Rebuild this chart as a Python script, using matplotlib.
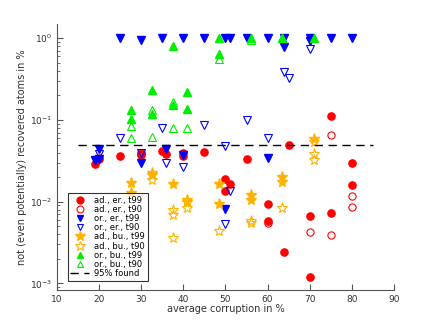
import matplotlib.pyplot as plt

# ad., er., t99 (red filled circles)
ad_er_99_x = [19, 20, 25, 30, 30, 35, 36, 40, 40, 45, 50, 50, 51, 55, 60, 60, 64, 65, 70, 70, 75, 75, 80, 80]
ad_er_99_y = [0.0286, 0.033, 0.0362, 0.0398, 0.037, 0.042, 0.038, 0.040, 0.036, 0.041, 0.019, 0.0135, 0.0164,
              0.033, 0.0095, 0.0058, 0.0024, 0.050, 0.0067, 0.0012, 0.111, 0.0072, 0.030, 0.016]
# ad., er., t90 (red open circles)
ad_er_90_x = [20, 30, 60, 70, 75, 75, 80, 80]
ad_er_90_y = [0.034, 0.038, 0.0055, 0.0043, 0.0655, 0.0039, 0.0118, 0.0087]
# or., er., t99 (blue filled down triangles)
or_er_99_x = [19, 20, 20, 25, 30, 30, 35, 36, 40, 40, 45, 50, 50, 51, 55, 60, 60, 64, 64, 70, 70, 75, 80]
or_er_99_y = [0.032, 0.044, 0.033, 1.0, 0.95, 0.030, 1.0, 0.044, 1.0, 0.037, 1.0, 1.0, 0.0081, 1.0, 1.0,
              1.0, 0.034, 1.0, 0.79, 1.0, 0.93, 1.0, 1.0]
# or., er., t90 (blue open down triangles)
or_er_90_x = [19, 20, 25, 30, 35, 36, 40, 45, 50, 50, 51, 55, 60, 64, 65, 70]
or_er_90_y = [0.032, 0.038, 0.0597, 0.040, 0.079, 0.0295, 0.0268, 0.087, 0.0485, 0.0054, 0.0135, 0.10,
              0.061, 0.39, 0.33, 0.73]
# ad., bu., t99 (orange filled stars)
ad_bu_99_x = [27.5, 27.5, 32.5, 32.5, 37.5, 41, 41, 48.5, 48.5, 56, 56, 63.5, 63.5, 71]
ad_bu_99_y = [0.0168, 0.0127, 0.0222, 0.021, 0.0163, 0.0105, 0.010, 0.0163, 0.0095, 0.012, 0.0105,
              0.0202, 0.0176, 0.058]
# ad., bu., t90 (orange open stars)
ad_bu_90_x = [32.5, 37.5, 37.5, 37.5, 41, 48.5, 56, 56, 63.5, 71, 71, 71]
ad_bu_90_y = [0.0184, 0.0079, 0.0068, 0.0036, 0.0083, 0.0044, 0.0058, 0.0055, 0.0083, 0.0384, 0.0324, 0.054]
# or., bu., t99 (green filled up triangles)
or_bu_99_x = [27.5, 27.5, 32.5, 32.5, 37.5, 37.5, 41, 41, 48.5, 48.5, 56, 63.5, 71]
or_bu_99_y = [0.132, 0.102, 0.233, 0.117, 0.80, 0.153, 0.22, 0.135, 1.0, 0.64, 1.0, 1.0, 1.0]
# or., bu., t90 (green open up triangles)
or_bu_90_x = [27.5, 27.5, 32.5, 32.5, 37.5, 37.5, 41, 48.5, 56, 63.5]
or_bu_90_y = [0.085, 0.061, 0.132, 0.0625, 0.168, 0.080, 0.080, 0.553, 0.95, 1.0]

found_x = [15, 85]
found_y = [0.05, 0.05]

red = '#ff0000'
blue = '#0000ff'
orange = '#ffb300'
green = '#00ee00'

fig = plt.figure(figsize=(4.36, 3.27), dpi=100)
ax = fig.add_axes([0.13, 0.113, 0.774, 0.814])

ax.plot(ad_er_99_x, ad_er_99_y, 'o', color=red, mfc=red, ms=5.2, label='ad., er., t99')
ax.plot(ad_er_90_x, ad_er_90_y, 'o', color=red, mfc='none', ms=5.2, mew=0.8, label='ad., er., t90')
ax.plot(or_er_99_x, or_er_99_y, 'v', color=blue, mfc=blue, ms=5.2, label='or., er., t99')
ax.plot(or_er_90_x, or_er_90_y, 'v', color=blue, mfc='none', ms=5.2, mew=0.8, label='or., er., t90')
ax.plot(ad_bu_99_x, ad_bu_99_y, '*', color=orange, mfc=orange, ms=8, label='ad., bu., t99')
ax.plot(ad_bu_90_x, ad_bu_90_y, '*', color=orange, mfc='none', ms=8, mew=0.8, label='ad., bu., t90')
ax.plot(or_bu_99_x, or_bu_99_y, '^', color=green, mfc=green, ms=5.2, label='or., bu., t99')
ax.plot(or_bu_90_x, or_bu_90_y, '^', color=green, mfc='none', ms=5.2, mew=0.8, label='or., bu., t90')
ax.plot(found_x, found_y, '--', color='black', lw=1, dashes=(6, 4), label='95% found')

ax.set_yscale('log')
ax.set_xlim(10, 90)
ax.set_ylim(0.00083, 1.5)
ax.set_xticks(range(10, 91, 10))

for s in ['top', 'right']:
    ax.spines[s].set_visible(False)
for s in ['left', 'bottom']:
    ax.spines[s].set_color('#555555')
    ax.spines[s].set_linewidth(0.8)
ax.tick_params(which='both', direction='in', colors='#555555', labelcolor='#333333', labelsize=6.5)
ax.tick_params(which='major', length=4)
ax.tick_params(which='minor', length=2)

ax.set_xlabel('average corruption in %', fontsize=7, color='#333333', labelpad=0)
ax.set_ylabel('not (even potentially) recovered atoms in %', fontsize=7, color='#333333', labelpad=2)

leg = ax.legend(loc='lower left', fontsize=6, frameon=True, fancybox=False, edgecolor='black',
                borderpad=0.3, labelspacing=0.02, handletextpad=0.6, handlelength=2.3,
                markerscale=0.95, bbox_to_anchor=(0.02, 0.02))
leg.get_frame().set_linewidth(0.8)

fig.savefig('out.png', dpi=100)
